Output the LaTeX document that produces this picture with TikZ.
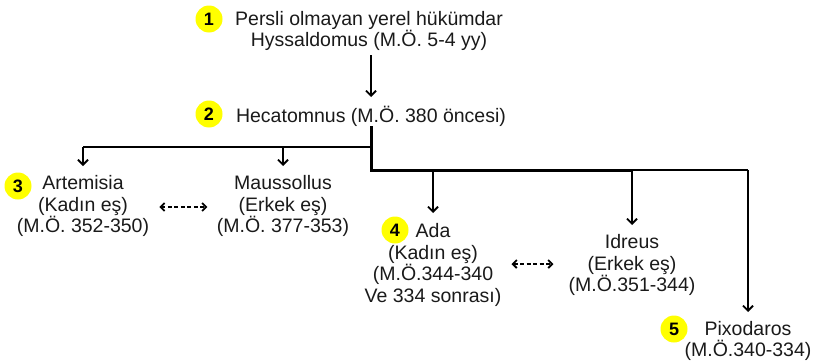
\documentclass[tikz,border=0pt]{standalone}
\usepackage{fontspec}
\setmainfont{Liberation Sans}
\usetikzlibrary{arrows.meta}
\definecolor{txtc}{HTML}{1A1A1A}
\definecolor{badgey}{HTML}{FFFF00}
\begin{document}
\begin{tikzpicture}[x=1pt,y=-1pt,
  txt/.style={align=center,inner sep=0pt,text=txtc,font=\fontsize{19.5}{21.5}\selectfont},
  badge/.style={circle,fill=badgey,minimum size=27pt,inner sep=0pt,font=\fontsize{18}{18}\selectfont\bfseries,text=black},
  arr/.style={line width=1.8pt,-{Straight Barb[length=5pt,width=10pt,line width=1.8pt]}},
  trunk/.style={line width=3pt},
  br/.style={line width=1.8pt},
  spouse/.style={line width=1.6pt,dash pattern=on 4pt off 2.5pt,{Straight Barb[length=4pt,width=8pt,line width=1.8pt]}-{Straight Barb[length=4pt,width=8pt,line width=1.8pt]}}
]
\useasboundingbox (0,0) rectangle (814,364);
\fill[white] (0,0) rectangle (814,364);

% nodes
\node[txt] (n1) at (369,31) {Persli olmayan yerel hükümdar\\Hyssaldomus (M.Ö. 5-4 yy)};
\node[badge] (b1) at (209,19) {1};
\node[txt] (hec) at (371,116) {Hecatomnus (M.Ö. 380 öncesi)};
\node[badge] (b2) at (209,114) {2};

\node[txt] (art) at (83,206) {Artemisia\\(Kadın eş)\\(M.Ö. 352-350)};
\node[badge] (b3) at (18,186) {3};
\node[txt] (mau) at (283,206) {Maussollus\\(Erkek eş)\\(M.Ö. 377-353)};

\node[txt] (ada) at (433,265) {Ada\\(Kadın eş)\\(M.Ö.344-340\\Ve 334 sonrası)};
\node[badge] (b4) at (395,230) {4};
\node[txt] (idr) at (632,265) {Idreus\\(Erkek eş)\\(M.Ö.351-344)};

\node[txt] (pix) at (748,341) {Pixodaros\\(M.Ö.340-334)};
\node[badge] (b5) at (674,329) {5};

% junctions
\coordinate (ja) at (371,147);
\coordinate (jb) at (371,170);

% connectors
\draw[arr] (n1.south -| hec.north) ++(0,4) -- (hec.north |- 0,97);
\draw[trunk] (hec.south -| ja) -- (jb) -- (jb -| idr.north);
\draw[br] (jb -| idr.north) -- (jb -| pix.north);
\draw[br] (ja) -- (ja -| art.north);
\draw[arr] (ja -| art.north) -- ++(0,19);
\draw[arr] (ja -| mau.north) -- ++(0,19);
\draw[arr] (jb -| ada.north) -- ++(0,43);
\draw[arr] (jb -| idr.north) -- ++(0,55);
\draw[arr] (jb -| pix.north) -- ++(0,142);

\draw[spouse] (art.east |- 0,207) ++(10,0) coordinate (s1) (s1) -- ++(48,0);
\draw[spouse] (ada.east |- 0,264) ++(10,0) coordinate (s2) (s2) -- ++(42,0);
\end{tikzpicture}
\end{document}
